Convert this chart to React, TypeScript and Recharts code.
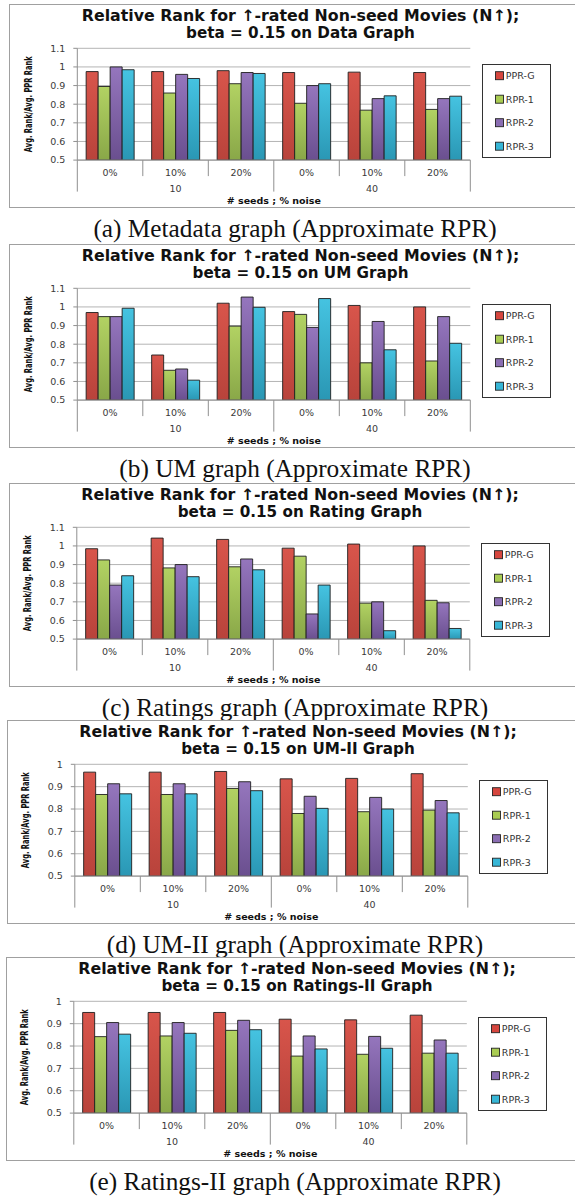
import React from 'react';
import { BarChart, Bar, XAxis, YAxis, CartesianGrid, Legend } from 'recharts';

// ---------- data ----------
const categories = ['0%', '10%', '20%', '0%', '10%', '20%'];
const seedGroups = ['10', '10', '10', '40', '40', '40'];
const seriesNames = ['PPR-G', 'RPR-1', 'RPR-2', 'RPR-3'];

const ticksTo11 = [0.5, 0.6, 0.7, 0.8, 0.9, 1, 1.1];
const ticksTo1 = [0.5, 0.6, 0.7, 0.8, 0.9, 1];

// rows: PPR-G, RPR-1, RPR-2, RPR-3 ; columns follow categories
const metadataValues = [
  [0.975, 0.975, 0.98, 0.97, 0.972, 0.97],
  [0.895, 0.86, 0.91, 0.805, 0.768, 0.772],
  [1.0, 0.96, 0.97, 0.9, 0.83, 0.83],
  [0.985, 0.938, 0.965, 0.91, 0.845, 0.843],
];
const umValues = [
  [0.97, 0.742, 1.02, 0.975, 1.008, 1.0],
  [0.948, 0.66, 0.897, 0.96, 0.7, 0.71],
  [0.948, 0.667, 1.053, 0.89, 0.922, 0.948],
  [0.993, 0.607, 0.998, 1.045, 0.77, 0.805],
];
const ratingValues = [
  [0.985, 1.042, 1.035, 0.988, 1.01, 1.0],
  [0.925, 0.882, 0.888, 0.945, 0.693, 0.708],
  [0.79, 0.9, 0.93, 0.635, 0.7, 0.695],
  [0.84, 0.835, 0.872, 0.79, 0.545, 0.557],
];
const umIIValues = [
  [0.965, 0.965, 0.968, 0.935, 0.937, 0.958],
  [0.865, 0.865, 0.892, 0.78, 0.788, 0.795],
  [0.913, 0.913, 0.922, 0.857, 0.852, 0.838],
  [0.868, 0.868, 0.882, 0.803, 0.8, 0.783],
];
const ratingsIIValues = [
  [0.95, 0.95, 0.95, 0.92, 0.917, 0.938],
  [0.842, 0.845, 0.87, 0.755, 0.763, 0.768],
  [0.905, 0.905, 0.915, 0.845, 0.843, 0.827],
  [0.853, 0.857, 0.873, 0.787, 0.79, 0.768],
];

// ---------- styles ----------
const gradTop = ['#d8554b', '#b2d263', '#9576bd', '#45c3e1'];
const gradBottom = ['#b8433b', '#89a748', '#6a4f8f', '#2a97b4'];
const legendColors = ['#d6463e', '#a9cc52', '#8a6db2', '#37b6d6'];

const SANS = "'DejaVu Sans', Verdana, sans-serif";
const NARROW = "'Liberation Sans Narrow', 'DejaVu Sans Condensed', 'Liberation Sans', sans-serif";
const SERIF = "'Liberation Serif', 'DejaVu Serif', serif";

const CHART_W = 575;
const CHART_H = 204;
const PLOT_TOP = 44.3;
const PLOT_H = 111.8;
const XAXIS_H = 45;
const YAXIS_W = 30;

const panels = [
  { id: 'a', top: 4, dx: 0, graph: 'Data Graph', caption: '(a) Metadata graph (Approximate RPR)', values: metadataValues, ticks: ticksTo11 },
  { id: 'b', top: 244, dx: 0, graph: 'UM Graph', caption: '(b) UM graph (Approximate RPR)', values: umValues, ticks: ticksTo11 },
  { id: 'c', top: 483, dx: -0.5, graph: 'Rating Graph', caption: '(c) Ratings graph (Approximate RPR)', values: ratingValues, ticks: ticksTo11 },
  { id: 'd', top: 720, dx: -2.5, graph: 'UM-II Graph', caption: '(d) UM-II graph (Approximate RPR)', values: umIIValues, ticks: ticksTo1 },
  { id: 'e', top: 957, dx: -3.5, graph: 'Ratings-II Graph', caption: '(e) Ratings-II graph (Approximate RPR)', values: ratingsIIValues, ticks: ticksTo1 },
];

const CategoryTick = (props: any) => {
  const { x, y, payload } = props;
  const i = payload.index ?? props.index;
  const half = payload.offset || 32.75;
  const groupStart = i % 3 === 0;
  const last = i === categories.length - 1;
  return (
    <g>
      <line x1={x - half} x2={x - half} y1={y} y2={y + (groupStart ? 31.5 : 16)} stroke="#8f8f8f" strokeWidth={1} />
      {last && <line x1={x + half} x2={x + half} y1={y} y2={y + 31.5} stroke="#8f8f8f" strokeWidth={1} />}
      <text x={x} y={y + 12} textAnchor="middle" dominantBaseline="central" fontSize={9.5} fill="#3a3a3a" fontFamily={SANS}>
        {payload.value}
      </text>
      {i % 3 === 1 && (
        <text x={x} y={y + 28} textAnchor="middle" dominantBaseline="central" fontSize={9.5} fill="#3a3a3a" fontFamily={SANS}>
          {seedGroups[i]}
        </text>
      )}
    </g>
  );
};

const LegendBox = (props: any) => {
  const payload = props.payload && props.payload.length ? props.payload : seriesNames.map((n) => ({ value: n }));
  return (
    <svg width={69} height={94} style={{ display: 'block' }}>
      <rect x={0.5} y={0.5} width={68} height={93} fill="#fff" stroke="#333" strokeWidth={1} />
      {payload.map((entry: any, i: number) => {
        const idx = Math.max(0, seriesNames.indexOf(entry.value));
        const cy = 11.7 + 23.5 * i;
        return (
          <g key={entry.value}>
            <rect x={13.5} y={cy - 4} width={8} height={8} fill={legendColors[idx]} stroke="#222" strokeWidth={0.9} />
            <text x={23.8} y={cy} dominantBaseline="central" fontSize={9.5} fill="#333" fontFamily={SANS}>
              {entry.value}
            </text>
          </g>
        );
      })}
    </svg>
  );
};

const Panel = ({ p }: { p: any }) => {
  const data = categories.map((c, i) => {
    const row: any = { cat: c, group: seedGroups[i] };
    seriesNames.forEach((s, si) => {
      row[s] = p.values[si][i];
    });
    return row;
  });
  const left = 77.3 + p.dx - YAXIS_W;
  const right = CHART_W - (470.3 + p.dx);
  const bottom = CHART_H - PLOT_TOP - PLOT_H - XAXIS_H;
  const yMax = p.ticks[p.ticks.length - 1];
  return (
    <>
      <div
        style={{
          position: 'absolute',
          left: 9 + p.dx,
          top: p.top,
          width: 640,
          height: 204,
          boxSizing: 'border-box',
          border: '1px solid #a0a0a0',
          background: '#fff',
        }}
      />
      <div
        style={{
          position: 'absolute',
          left: 0,
          top: p.top + 4,
          width: 601 + 2 * p.dx,
          textAlign: 'center',
          fontFamily: SANS,
          fontWeight: 'bold',
          fontSize: 15.8,
          lineHeight: '16.5px',
          color: '#111',
          whiteSpace: 'nowrap',
        }}
      >
        <div>Relative Rank for ↑-rated Non-seed Movies (N↑);</div>
        <div style={{ fontSize: 15.2 }}>beta = 0.15 on {p.graph}</div>
      </div>
      <div style={{ position: 'absolute', left: 0, top: p.top }}>
        <BarChart
          width={CHART_W}
          height={CHART_H}
          data={data}
          margin={{ top: PLOT_TOP, right, bottom, left }}
          barCategoryGap="13.5%"
          barGap={0}
        >
          <defs>
            {seriesNames.map((s, si) => (
              <linearGradient key={s} id={`grad-${p.id}-${si}`} x1="0" y1="0" x2="0" y2="1">
                <stop offset="0%" stopColor={gradTop[si]} />
                <stop offset="100%" stopColor={gradBottom[si]} />
              </linearGradient>
            ))}
          </defs>
          <CartesianGrid vertical={false} stroke="#b4b4b4" strokeWidth={1} />
          <XAxis
            dataKey="cat"
            type="category"
            interval={0}
            height={XAXIS_H}
            tickLine={false}
            tickSize={0}
            tickMargin={0}
            axisLine={{ stroke: '#8f8f8f' }}
            tick={<CategoryTick />}
            label={(lp: any) => {
              const vb = lp.viewBox || {};
              return (
                <text
                  x={vb.x + vb.width / 2}
                  y={vb.y + 40}
                  textAnchor="middle"
                  dominantBaseline="central"
                  fontSize={9.5}
                  fontWeight="bold"
                  fill="#111"
                  fontFamily={SANS}
                >
                  # seeds ; % noise
                </text>
              );
            }}
          />
          <YAxis
            type="number"
            domain={[0.5, yMax]}
            ticks={p.ticks}
            interval={0}
            allowDataOverflow
            width={YAXIS_W}
            tickSize={4}
            tickMargin={8}
            tickLine={{ stroke: '#8f8f8f' }}
            axisLine={{ stroke: '#8f8f8f' }}
            tick={{ fontSize: 9.5, fill: '#3a3a3a', fontFamily: SANS }}
            tickFormatter={(v: number) => String(Number(v.toFixed(1)))}
            label={(lp: any) => {
              const vb = lp.viewBox || {};
              const cx = vb.x + vb.width - 49.5;
              const cy = vb.y + vb.height / 2;
              return (
                <text
                  x={cx}
                  y={cy}
                  transform={`rotate(-90 ${cx} ${cy})`}
                  textAnchor="middle"
                  dominantBaseline="central"
                  fontSize={10.5}
                  fontWeight="bold"
                  fill="#111"
                  fontFamily={NARROW}
                  textLength={96}
                  lengthAdjust="spacingAndGlyphs"
                >
                  Avg. Rank/Avg. PPR Rank
                </text>
              );
            }}
          />
          <Legend
            layout="vertical"
            align="center"
            verticalAlign="middle"
            wrapperStyle={{ left: 481.7 + p.dx, top: 60, width: 69, height: 94 }}
            content={<LegendBox />}
          />
          {seriesNames.map((s, si) => (
            <Bar
              key={s}
              dataKey={s}
              name={s}
              fill={`url(#grad-${p.id}-${si})`}
              stroke="#1e1e1e"
              strokeWidth={0.9}
              isAnimationActive={false}
            />
          ))}
        </BarChart>
      </div>
      <svg style={{ position: 'absolute', left: 0, top: p.top + 210 }} width={575} height={30}>
        <text x={295} y={14} textAnchor="middle" dominantBaseline="central" fontSize={25.3} fill="#111" fontFamily={SERIF}>
          {p.caption}
        </text>
      </svg>
    </>
  );
};

export default function App() {
  return (
    <div
      style={{
        position: 'absolute',
        left: 0,
        top: 0,
        width: 575,
        height: 1198,
        overflow: 'hidden',
        background: '#fff',
      }}
    >
      {panels.map((p) => (
        <Panel key={p.id} p={p} />
      ))}
    </div>
  );
}
